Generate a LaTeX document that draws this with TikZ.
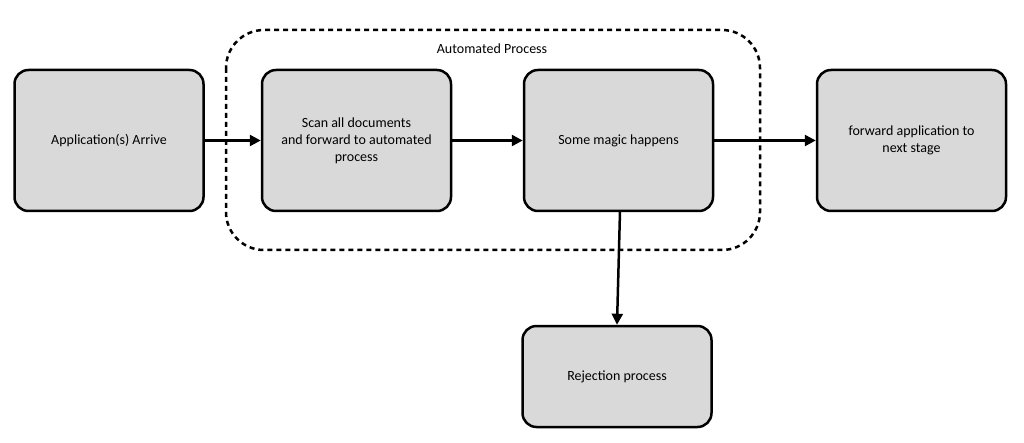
\documentclass[tikz,border=0pt]{standalone}
\usepackage{fontspec}
\setmainfont{Carlito}
\usetikzlibrary{arrows.meta}
\begin{document}
\begin{tikzpicture}[x=1pt,y=-1pt,
  box/.style={draw,line width=2.5pt,fill={rgb,255:red,217;green,217;blue,217},rounded corners=14pt,minimum width=189pt,minimum height=141pt,align=center,font=\fontsize{14}{17}\selectfont,inner sep=0pt},
  arr/.style={line width=2.5pt,-{Triangle[length=11pt,width=11pt]}}]
\useasboundingbox (0,0) rectangle (1024,443);
\draw[line width=2.5pt,dash pattern=on 5pt off 4pt,rounded corners=38pt] (226,30) rectangle (760,250);
\node[font=\fontsize{14}{17}\selectfont] (lbl) at (492,49) {Automated Process};
\node[box] (a) at (109,140.5) {Application(s) Arrive};
\node[box] (b) at (356.5,140.5) {Scan all documents\\and forward to automated\\process};
\node[box] (c) at (618.5,140.5) {Some magic happens};
\node[box] (d) at (911.5,140.5) {forward application to\\next stage};
\node[box,minimum height=101pt] (e) at (617,376.5) {Rejection process};
\draw[arr] (a) -- (b);
\draw[arr] (b) -- (c);
\draw[arr] (c) -- (d);
\draw[arr] (620,211) -- (e.north);
\end{tikzpicture}
\end{document}
